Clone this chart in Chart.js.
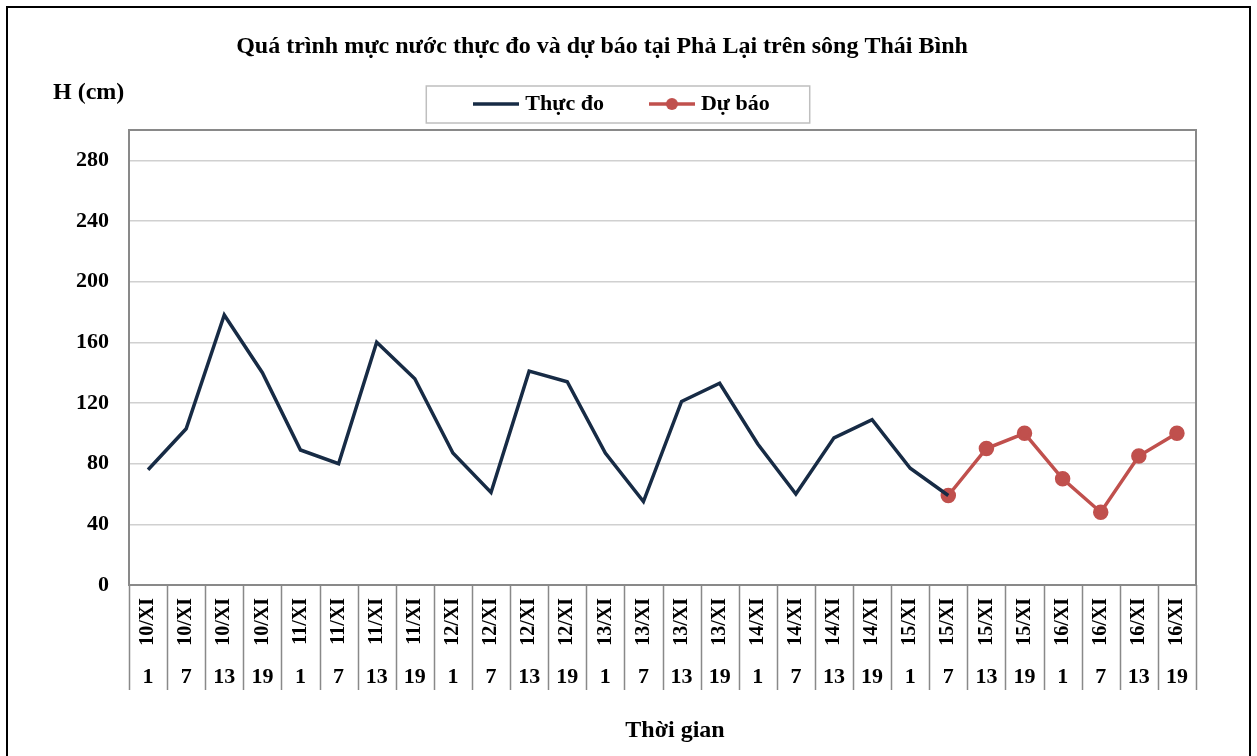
<!DOCTYPE html>
<html>
<head>
<meta charset="utf-8">
<script src="https://cdn.jsdelivr.net/npm/chart.js@4"></script>
<style>
  html, body { margin: 0; padding: 0; background: #fff; }
  #wrap { position: relative; width: 1257px; height: 756px; }
</style>
</head>
<body>
<div id="wrap"><canvas id="mucNuocChart" width="1257" height="756"></canvas></div>
<script>
// data
var ngay = ['10/XI', '10/XI', '10/XI', '10/XI', '11/XI', '11/XI', '11/XI', '11/XI',
            '12/XI', '12/XI', '12/XI', '12/XI', '13/XI', '13/XI', '13/XI', '13/XI',
            '14/XI', '14/XI', '14/XI', '14/XI', '15/XI', '15/XI', '15/XI', '15/XI',
            '16/XI', '16/XI', '16/XI', '16/XI'];
var gio = ['1', '7', '13', '19', '1', '7', '13', '19', '1', '7', '13', '19', '1', '7',
           '13', '19', '1', '7', '13', '19', '1', '7', '13', '19', '1', '7', '13', '19'];
var thucDo = [76, 103, 178, 140, 89, 80, 160, 136, 87, 61, 141, 134, 87, 55,
              121, 133, 93, 60, 97, 109, 77, 59, null, null, null, null, null, null];
var duBao = [null, null, null, null, null, null, null, null, null, null, null, null, null, null,
             null, null, null, null, null, null, null, 59, 90, 100, 70, 48, 85, 100];
var yTicks = [0, 40, 80, 120, 160, 200, 240, 280];

var serif = "'Liberation Serif', 'Times New Roman', serif";
var mauThucDo = '#172B45';
var mauDuBao = '#C0504D';

// small legend samples (line, line + dot)
function mauLegend(color, dot) {
  var c = document.createElement('canvas');
  c.width = 46; c.height = 14;
  var g = c.getContext('2d');
  g.strokeStyle = color; g.lineWidth = 3.5;
  g.beginPath(); g.moveTo(0, 7); g.lineTo(46, 7); g.stroke();
  if (dot) {
    g.fillStyle = color;
    g.beginPath(); g.arc(23, 7, 6, 0, Math.PI * 2); g.fill();
  }
  return c;
}
var legendThucDo = mauLegend(mauThucDo, false);
var legendDuBao = mauLegend(mauDuBao, true);

var trangTri = {
  id: 'trangTri',
  afterInit: function (chart) {
    var lg = chart.legend;
    var fit0 = lg.fit;
    lg.fit = function () { fit0.call(this); this.height += 5; };
  },
  afterDraw: function (chart) {
    var ctx = chart.ctx;
    var a = chart.chartArea;
    var xs = chart.scales.x;
    ctx.save();
    // outer frame
    ctx.strokeStyle = '#000';
    ctx.lineWidth = 2;
    ctx.strokeRect(7, 7, 1243, 770);
    // plot border (top + right)
    ctx.strokeStyle = '#898989';
    ctx.beginPath();
    ctx.moveTo(a.left, a.top); ctx.lineTo(a.right, a.top); ctx.lineTo(a.right, a.bottom);
    ctx.stroke();
    // category separators under the axis
    ctx.lineWidth = 1.5;
    ctx.beginPath();
    for (var i = 0; i <= ngay.length; i++) {
      var px = Math.round(xs.getPixelForValue(i - 0.5)) + 0.5;
      ctx.moveTo(px, a.bottom); ctx.lineTo(px, 690);
    }
    ctx.stroke();
    // legend box
    var hb = chart.legend.legendHitBoxes;
    if (hb && hb.length) {
      var l = hb[0].left - 52, r = hb[hb.length - 1].left + hb[hb.length - 1].width + 40;
      ctx.strokeStyle = '#bfbfbf';
      ctx.lineWidth = 1.5;
      ctx.strokeRect(l, hb[0].top - 7, r - l, hb[0].height + 15);
    }
    // titles
    ctx.fillStyle = '#000';
    ctx.textBaseline = 'middle';
    ctx.textAlign = 'center';
    ctx.font = 'bold 24px ' + serif;
    ctx.fillText('Quá trình mực nước thực đo và dự báo tại Phả Lại trên sông Thái Bình', 602, 47);
    ctx.fillText('Thời gian', 675, 731);
    ctx.textAlign = 'left';
    ctx.fillText('H (cm)', 53, 93);
    ctx.restore();
  }
};

var chart = new Chart(document.getElementById('mucNuocChart').getContext('2d'), {
  type: 'line',
  data: {
    labels: ngay,
    datasets: [{
      label: 'Thực đo',
      data: thucDo,
      borderColor: mauThucDo,
      backgroundColor: mauThucDo,
      borderWidth: 3.5,
      pointRadius: 0,
      tension: 0
    }, {
      label: 'Dự báo',
      data: duBao,
      borderColor: mauDuBao,
      backgroundColor: mauDuBao,
      borderWidth: 3.5,
      pointRadius: 6,
      pointHoverRadius: 6,
      tension: 0
    }]
  },
  options: {
    responsive: false,
    animation: false,
    devicePixelRatio: 1,
    layout: { padding: { left: 52, right: 61, top: 43, bottom: 0 } },
    plugins: {
      title: { display: false },
      tooltip: { enabled: false },
      legend: {
        position: 'top',
        labels: {
          usePointStyle: true,
          pointStyleWidth: 36,
          padding: 50,
          color: '#000',
          font: { family: serif, size: 22, weight: 'bold' },
          generateLabels: function (c) {
            var items = Chart.defaults.plugins.legend.labels.generateLabels(c);
            items[0].pointStyle = legendThucDo;
            items[1].pointStyle = legendDuBao;
            return items;
          }
        }
      }
    },
    scales: {
      x: {
        type: 'category',
        offset: true,
        grid: { display: false, drawTicks: false },
        border: { display: true, color: '#898989', width: 2 },
        ticks: {
          autoSkip: false, minRotation: 90, maxRotation: 90, padding: 13,
          color: '#000', font: { family: serif, size: 20, weight: 'bold' }
        },
        afterFit: function (s) { s.height = 75; }
      },
      x2: {
        type: 'category',
        labels: gio,
        position: 'bottom',
        weight: 1,
        offset: true,
        grid: { display: false, drawTicks: false },
        border: { display: false },
        ticks: {
          autoSkip: false, maxRotation: 0, padding: 4,
          color: '#000', font: { family: serif, size: 22, weight: 'bold' }
        },
        afterFit: function (s) { s.height = 96; }
      },
      y: {
        min: 0,
        max: 300,
        grid: { color: '#d0d0d0', lineWidth: 1.5, drawTicks: false },
        border: { color: '#898989', width: 2 },
        ticks: {
          stepSize: 40, padding: 20, color: '#000',
          font: { family: serif, size: 22, weight: 'bold' }
        },
        afterBuildTicks: function (s) {
          s.ticks = yTicks.map(function (v) { return { value: v }; });
        },
        afterFit: function (s) { s.width = 77; }
      }
    }
  },
  plugins: [trangTri]
});
</script>
</body>
</html>
